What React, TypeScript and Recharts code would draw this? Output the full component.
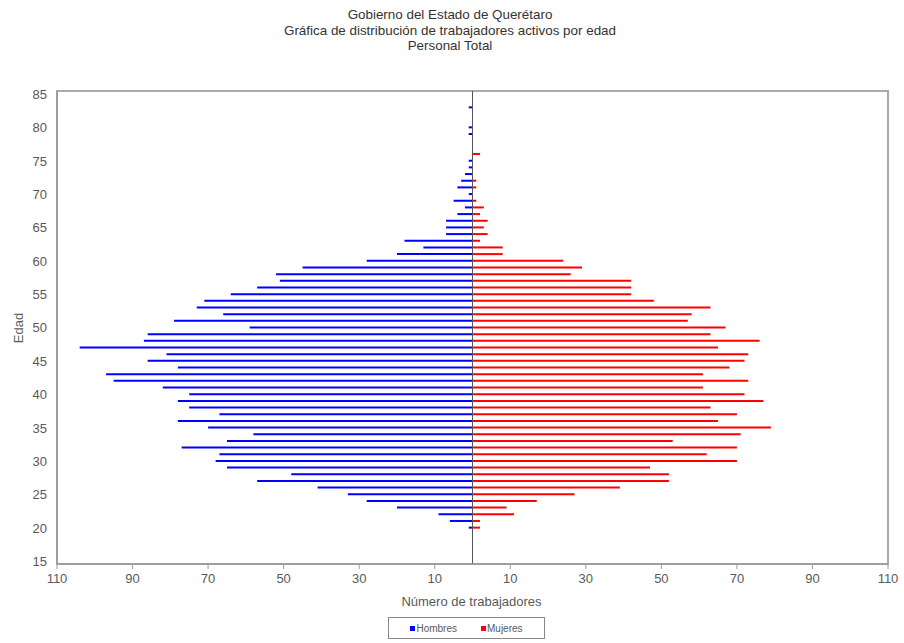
import {
    BarChart,
    Bar,
    XAxis,
    YAxis,
    ReferenceLine,
    ReferenceArea,
} from 'recharts';

// edades (una barra por año)
const ages = [
    20, 21, 22, 23, 24, 25, 26, 27, 28, 29,
    30, 31, 32, 33, 34, 35, 36, 37, 38, 39,
    40, 41, 42, 43, 44, 45, 46, 47, 48, 49,
    50, 51, 52, 53, 54, 55, 56, 57, 58, 59,
    60, 61, 62, 63, 64, 65, 66, 67, 68, 69,
    70, 71, 72, 73, 74, 75, 76, 77, 78, 79,
    80, 81, 82, 83,
];

const hombres = [
    1, 6, 9, 20, 28, 33, 41, 57, 48, 65,
    68, 67, 77, 65, 58, 70, 78, 67, 75, 78,
    75, 82, 95, 97, 78, 86, 81, 104, 87, 86,
    59, 79, 66, 73, 71, 64, 57, 51, 52, 45,
    28, 20, 13, 18, 7, 7, 7, 4, 2, 5,
    1, 4, 3, 2, 1, 1, 0, 0, 0, 1,
    1, 0, 0, 1,
];

const mujeres = [
    2, 2, 11, 9, 17, 27, 39, 52, 52, 47,
    70, 62, 70, 53, 71, 79, 65, 70, 63, 77,
    72, 61, 73, 61, 68, 72, 73, 65, 76, 63,
    67, 57, 58, 63, 48, 42, 42, 42, 26, 29,
    24, 8, 8, 2, 4, 3, 4, 2, 3, 1,
    0, 1, 1, 0, 0, 0, 2, 0, 0, 0,
    0, 0, 0, 0,
];

const yTicks = [15, 20, 25, 30, 35, 40, 45, 50, 55, 60, 65, 70, 75, 80, 85];
const xTicks = [-110, -90, -70, -50, -30, -10, 10, 30, 50, 70, 90, 110];

const FONT = '"Liberation Sans", Arial, sans-serif';
const GRAY = '#595959';

export default function App() {
    const data = ages.map((age, i) => ({
        age,
        hombres: -hombres[i],
        mujeres: mujeres[i],
    }));

    return (
        <div
            style={{
                position: 'absolute',
                left: 0,
                top: 0,
                width: 904,
                height: 643,
                background: '#fff',
                fontFamily: FONT,
            }}
        >
            <div
                style={{
                    position: 'absolute',
                    left: 0,
                    top: 7,
                    width: 900,
                    textAlign: 'center',
                    fontSize: 13.4,
                    lineHeight: '15.5px',
                    color: '#333',
                }}
            >
                <div>Gobierno del Estado de Querétaro</div>
                <div>Gráfica de distribución de trabajadores activos por edad</div>
                <div>Personal Total</div>
            </div>

            <BarChart
                width={904}
                height={643}
                data={data}
                layout="vertical"
                stackOffset="sign"
                barSize={2}
                margin={{ top: 91, right: 16, bottom: 49, left: 0 }}
            >
                <XAxis
                    type="number"
                    domain={[-110, 110]}
                    ticks={xTicks}
                    allowDataOverflow
                    tickFormatter={(v: number) => String(Math.abs(v))}
                    tick={{ fontSize: 13, fill: GRAY, fontFamily: FONT }}
                    axisLine={{ stroke: '#9a9a9a', strokeWidth: 1.5 }}
                    tickLine={{ stroke: '#9a9a9a' }}
                    tickSize={5}
                    tickMargin={5}
                    height={30}
                />
                <YAxis
                    type="number"
                    dataKey="age"
                    domain={[14.6, 85.5]}
                    ticks={yTicks}
                    reversed
                    allowDataOverflow
                    tick={{ fontSize: 13, fill: GRAY, fontFamily: FONT }}
                    axisLine={{ stroke: '#9a9a9a', strokeWidth: 1.5 }}
                    tickLine={false}
                    tickSize={8}
                    tickMargin={2}
                    width={57}
                />
                <ReferenceArea
                    x1={-110}
                    x2={110}
                    y1={14.6}
                    y2={85.5}
                    fill="none"
                    stroke="#aaaaaa"
                    strokeWidth={2}
                    ifOverflow="visible"
                />
                <ReferenceLine x={0} stroke="#555" strokeWidth={1} />
                <Bar dataKey="hombres" name="Hombres" stackId="a" fill="#0000ff" isAnimationActive={false} />
                <Bar dataKey="mujeres" name="Mujeres" stackId="a" fill="#ff0000" isAnimationActive={false} />
            </BarChart>

            <div
                style={{
                    position: 'absolute',
                    left: 6,
                    top: 328,
                    transform: 'translate(-50%, -50%) rotate(-90deg)',
                    marginLeft: 12,
                    fontSize: 13,
                    color: GRAY,
                }}
            >
                Edad
            </div>

            <div
                style={{
                    position: 'absolute',
                    left: 0,
                    top: 594,
                    width: 943,
                    textAlign: 'center',
                    fontSize: 13,
                    color: GRAY,
                }}
            >
                Número de trabajadores
            </div>

            <div
                style={{
                    position: 'absolute',
                    left: 388,
                    top: 617,
                    width: 157,
                    height: 22,
                    border: '1px solid #888',
                    boxSizing: 'border-box',
                    display: 'flex',
                    alignItems: 'center',
                    justifyContent: 'center',
                    gap: 24,
                    fontSize: 10,
                    color: GRAY,
                }}
            >
                <span style={{ display: 'flex', alignItems: 'center' }}>
                    <span style={{ width: 5, height: 5, background: '#0000ff', marginRight: 1 }} />
                    Hombres
                </span>
                <span style={{ display: 'flex', alignItems: 'center' }}>
                    <span style={{ width: 5, height: 5, background: '#ff0000', marginRight: 1 }} />
                    Mujeres
                </span>
            </div>
        </div>
    );
}
